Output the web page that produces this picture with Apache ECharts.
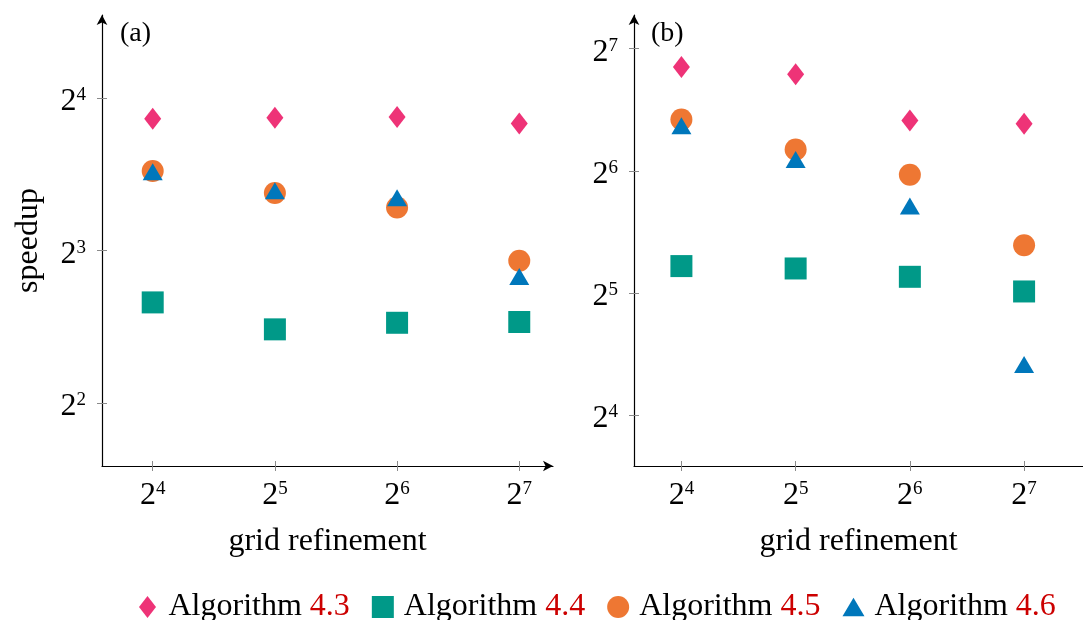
<!DOCTYPE html>
<html>
<head>
<meta charset="utf-8">
<script src="https://cdn.jsdelivr.net/npm/echarts@6/dist/echarts.min.js"></script>
<style>
  html, body { margin: 0; padding: 0; background: #fff; }
  #chart { width: 1083px; height: 620px; }
</style>
</head>
<body>
<div id="chart"></div>
<script>
// grid refinement levels (x values)
const refinement = [16, 32, 64, 128];
const algorithms = ['4.3', '4.4', '4.5', '4.6'];

// panel (a): speedup per refinement level
const a43 = [14.59, 14.66, 14.70, 14.28];
const a44 = [6.32, 5.59, 5.76, 5.78];
const a45 = [11.50, 10.40, 9.74, 7.64];
const a46 = [11.31, 10.37, 10.05, 7.02];

// panel (b): speedup per refinement level
const b43 = [115.4, 110.7, 85.2, 83.6];
const b44 = [37.3, 36.8, 35.1, 32.3];
const b45 = [85.7, 72.3, 62.6, 42.0];
const b46 = [81.4, 67.2, 51.6, 21.0];

// tick positions and their exponent labels
const xTicks = [16, 32, 64, 128];
const yTicksA = [4, 8, 16];
const yTicksB = [16, 32, 64, 128];
const exponentOf = { 4: '2', 8: '3', 16: '4', 32: '5', 64: '6', 128: '7' };

const FONT = '"Liberation Serif", "DejaVu Serif", serif';
const colors = ['#EE3377', '#009988', '#EE7733', '#0077BB'];

const richPow = {
  b: { fontFamily: FONT, fontSize: 32, lineHeight: 32, color: '#000' },
  s: { fontFamily: FONT, fontSize: 19, lineHeight: 20, verticalAlign: 'top', color: '#000' }
};
const powLabel = v => '{b|2}{s|' + exponentOf[Math.round(v)] + '}';

const tickStyle = { color: '#8a8a8a', width: 1 };
const lineStyle = { color: '#000', width: 1.2 };

// grid geometry (the right panel's x axis runs to the canvas edge)
const grids = [
  { left: 102, top: 15, width: 451, height: 451 },
  { left: 634, top: 15, width: 449, height: 451 }
];

function xAxes(gi, min, max, name, arrow) {
  const h = grids[gi].height;
  return [
    {
      type: 'log', logBase: 2, gridIndex: gi, min: min, max: max, position: 'bottom',
      axisLine: { show: true, onZero: false, lineStyle: lineStyle, symbol: ['none', arrow ? 'arrow' : 'none'], symbolSize: [8, 10] },
      axisTick: { show: true, inside: false, length: 5, customValues: xTicks, lineStyle: tickStyle },
      axisLabel: { customValues: xTicks, formatter: powLabel, margin: 14, rich: richPow },
      splitLine: { show: false }, minorTick: { show: false },
      name: name, nameLocation: 'middle', nameGap: 60,
      nameTextStyle: { fontFamily: FONT, fontSize: 32, color: '#000' }
    },
    {
      type: 'log', logBase: 2, gridIndex: gi, min: min, max: max, position: 'top', offset: -h,
      axisLine: { show: false },
      axisTick: { show: true, inside: false, length: 5, customValues: xTicks, lineStyle: tickStyle },
      axisLabel: { show: false }, splitLine: { show: false }
    }
  ];
}

function yAxes(gi, min, max, ticks, name) {
  const w = grids[gi].width;
  return [
    {
      type: 'log', logBase: 2, gridIndex: gi, min: min, max: max, position: 'left',
      axisLine: { show: true, onZero: false, lineStyle: lineStyle, symbol: ['none', 'arrow'], symbolSize: [8, 10] },
      axisTick: { show: true, inside: false, length: 5, customValues: ticks, lineStyle: tickStyle },
      axisLabel: { customValues: ticks, formatter: powLabel, margin: 16, rich: richPow, padding: [7, 0, 0, 0] },
      splitLine: { show: false }, minorTick: { show: false },
      name: name, nameLocation: 'middle', nameGap: 57,
      nameTextStyle: { fontFamily: FONT, fontSize: 32, color: '#000' }
    },
    {
      type: 'log', logBase: 2, gridIndex: gi, min: min, max: max, position: 'right', offset: -w,
      axisLine: { show: false },
      axisTick: { show: true, inside: false, length: 5, customValues: ticks, lineStyle: tickStyle },
      axisLabel: { show: false }, splitLine: { show: false }
    }
  ];
}

const pairs = (ys) => refinement.map((x, i) => [x, ys[i]]);

const markers = [
  { symbol: 'diamond', symbolSize: [17, 22] },
  { symbol: 'rect', symbolSize: 22 },
  { symbol: 'circle', symbolSize: 22 },
  { symbol: 'triangle', symbolSize: [20, 17], symbolOffset: [0, '-16.7%'] }
];

const panelData = [[a43, a44, a45, a46], [b43, b44, b45, b46]];
const series = [];
panelData.forEach((sets, gi) => {
  sets.forEach((ys, k) => {
    series.push(Object.assign({
      type: 'scatter',
      name: 'Algorithm ' + algorithms[k],
      xAxisIndex: gi * 2,
      yAxisIndex: gi * 2,
      data: pairs(ys),
      itemStyle: { color: colors[k], opacity: 1 },
      emphasis: { disabled: true },
      z: 2 + k
    }, markers[k]));
  });
});

const legendIcons = [
  'path://M8.5,0L17,11L8.5,22L0,11Z',
  'path://M0,0L22,0L22,22L0,22Z',
  'circle',
  'path://M10,0L20,17L0,17Z'
];

const option = {
  animation: false,
  backgroundColor: '#fff',
  grid: grids.map(g => Object.assign({ containLabel: false }, g)),
  xAxis: [].concat(
    xAxes(0, 12, 155, 'grid refinement', true),
    xAxes(1, 12, 183, 'grid refinement', false)
  ),
  yAxis: [].concat(
    yAxes(0, 3, 23.4, yTicksA, 'speedup'),
    yAxes(1, 12, 155, yTicksB, '')
  ),
  legend: {
    left: 134, top: 586,
    itemWidth: 22, itemHeight: 22, itemGap: 22,
    selectedMode: false,
    data: algorithms.map((a, k) => ({ name: 'Algorithm ' + a, icon: legendIcons[k] })),
    formatter: n => n.replace(/(\d\.\d)$/, '{r|$1}'),
    textStyle: {
      fontFamily: FONT, fontSize: 32, color: '#000', padding: [0, 0, 0, 5],
      rich: { r: { fontFamily: FONT, fontSize: 32, color: '#cc0000' } }
    }
  },
  graphic: [
    { type: 'text', x: 120, y: 34, style: { text: '(a)', fontFamily: FONT, fontSize: 28, fill: '#000', verticalAlign: 'middle', align: 'left' } },
    { type: 'text', x: 651, y: 34, style: { text: '(b)', fontFamily: FONT, fontSize: 28, fill: '#000', verticalAlign: 'middle', align: 'left' } }
  ],
  series: series
};

const chart = echarts.init(document.getElementById('chart'), null, { renderer: 'canvas' });
chart.setOption(option);
</script>
</body>
</html>
